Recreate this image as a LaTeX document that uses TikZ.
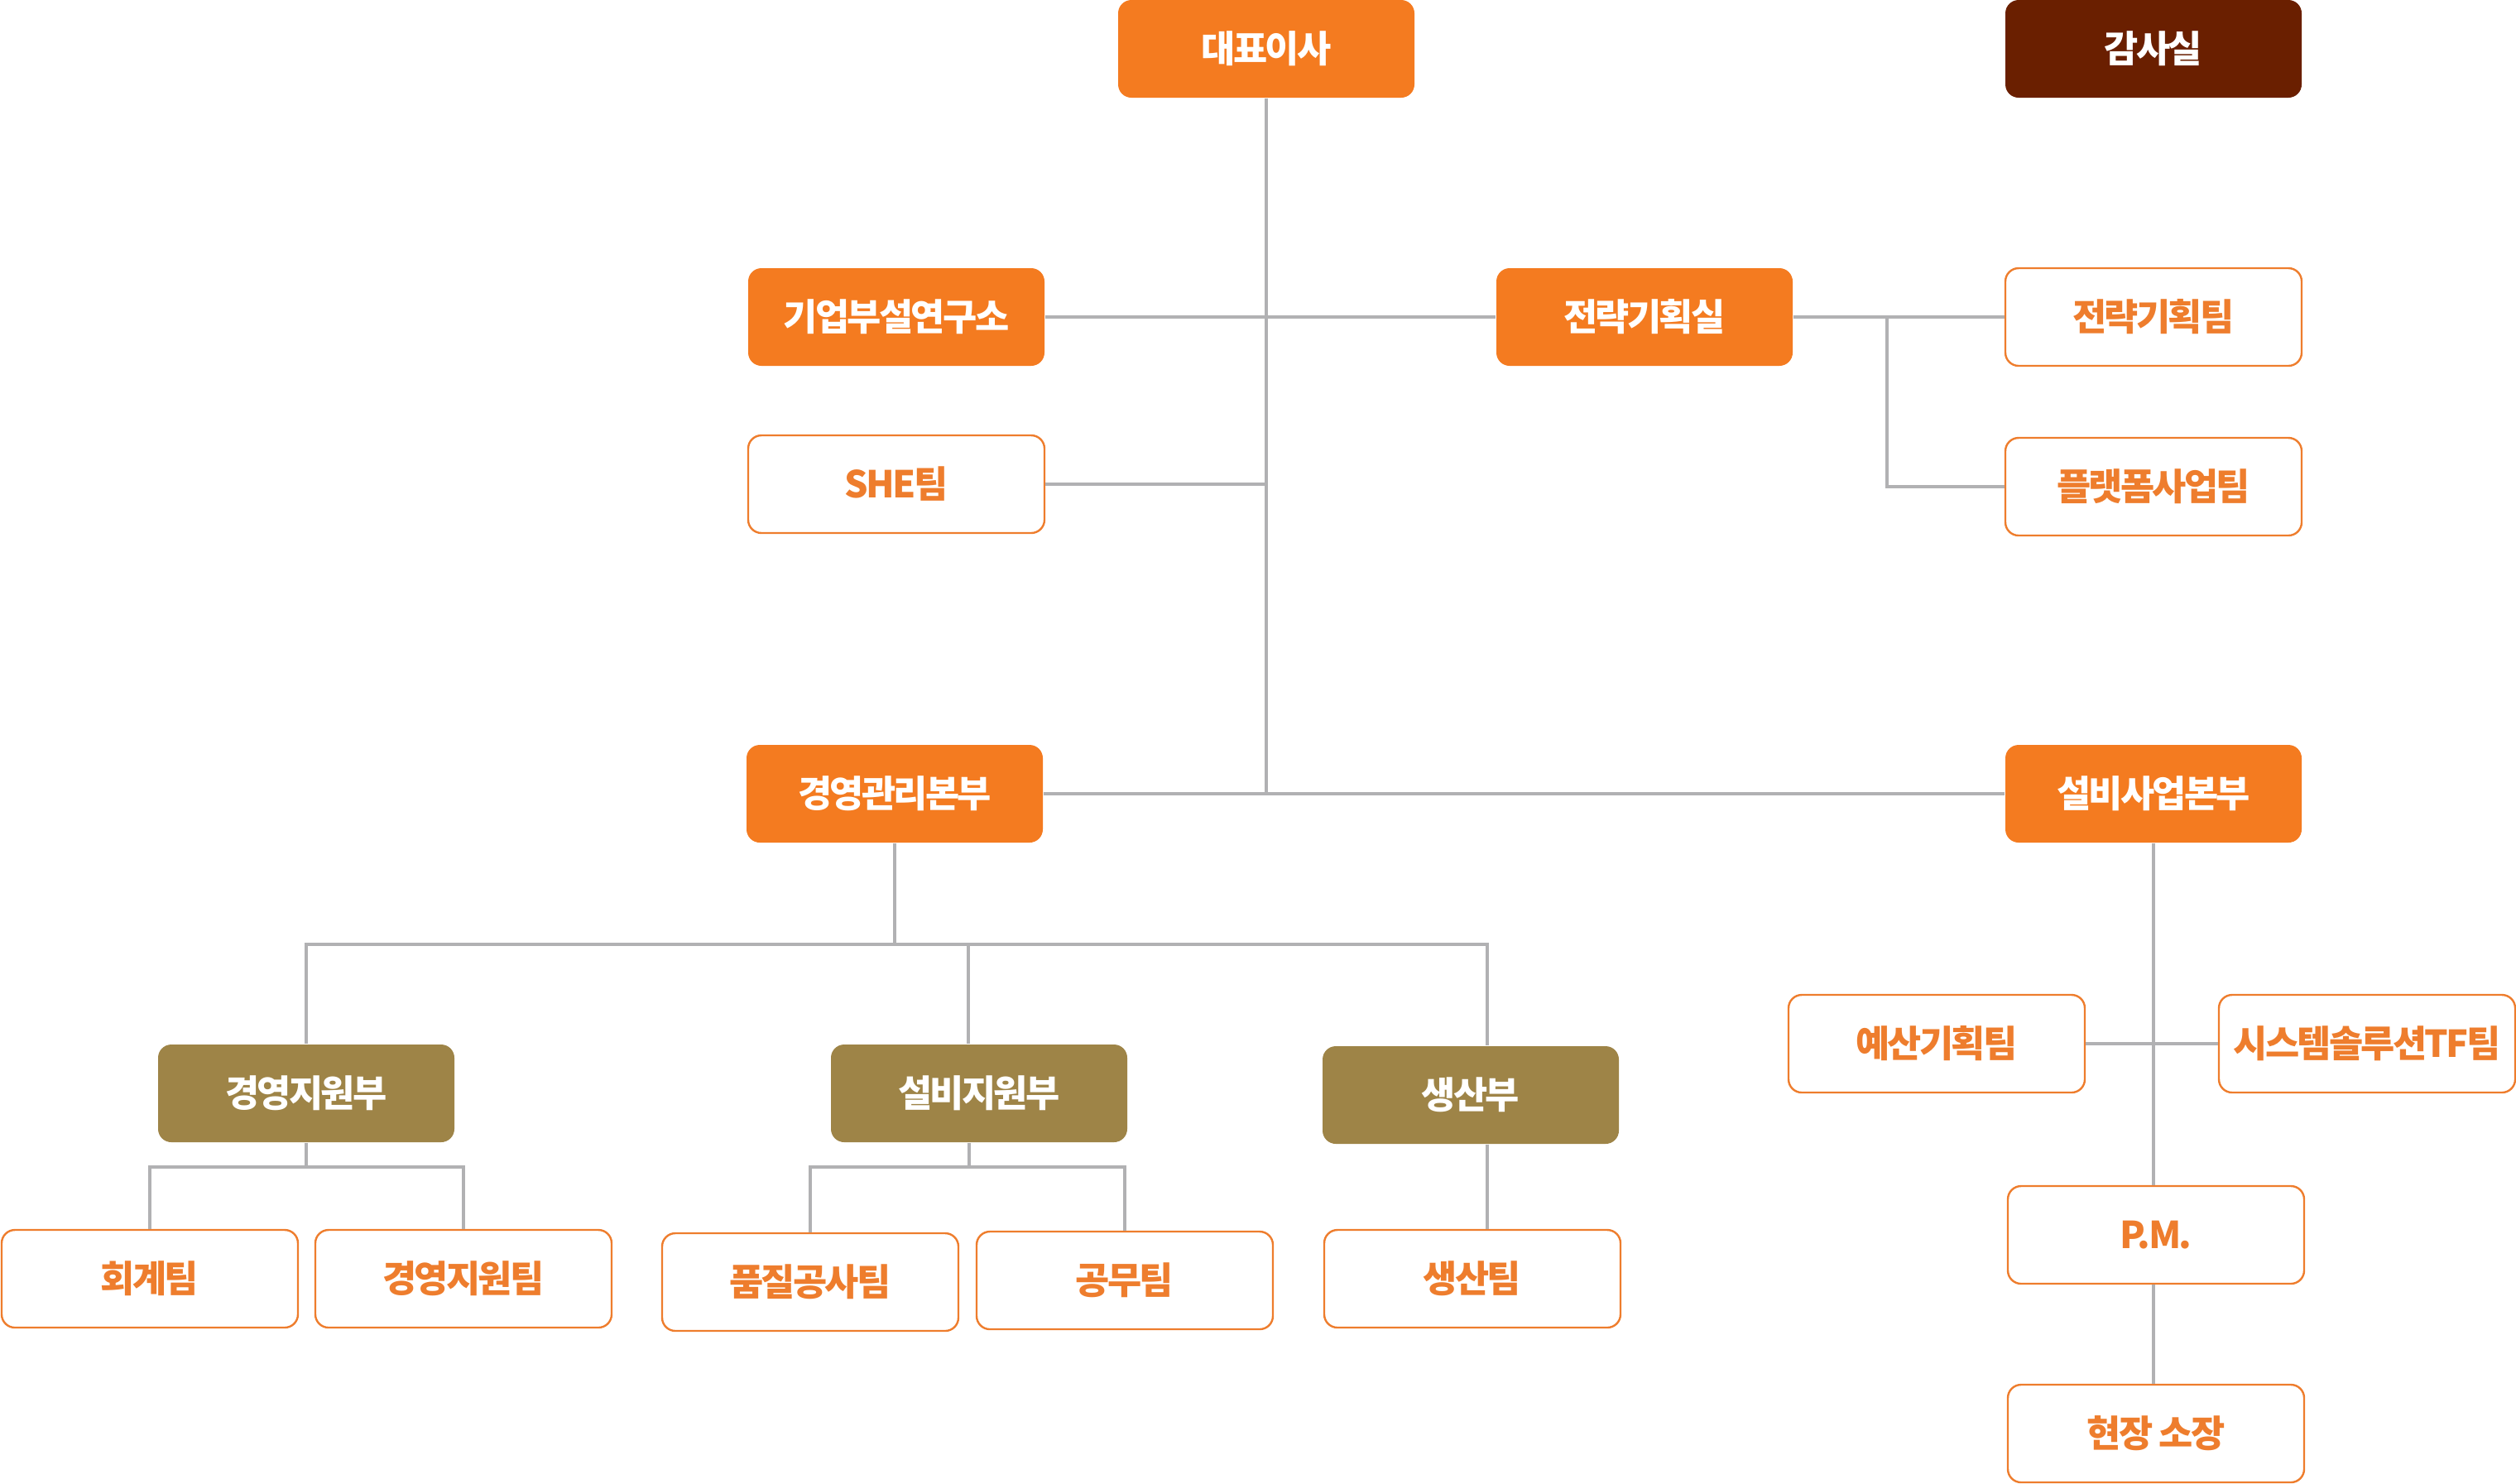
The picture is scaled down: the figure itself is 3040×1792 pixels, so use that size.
\documentclass[tikz,border=0pt]{standalone}
\usepackage{fontspec}
\newfontfamily\krfont{Noto Sans CJK KR}[LetterSpace=-6]
\usetikzlibrary{positioning}
\definecolor{headorange}{HTML}{F47B20}
\definecolor{auditbrown}{HTML}{6A1F00}
\definecolor{divolive}{HTML}{9E8447}
\definecolor{teamorange}{HTML}{EE7D2D}
\definecolor{linkgray}{HTML}{B1B1B3}

\begin{document}
\begin{tikzpicture}[x=0.25pt,y=-0.25pt,
  box/.style={rounded corners=4pt,minimum width=89.5pt,minimum height=29.5pt,inner sep=0pt,
    font=\krfont\bfseries\fontsize{11.2}{13}\selectfont},
  headbox/.style={box,fill=headorange,text=white},
  auditbox/.style={box,fill=auditbrown,text=white},
  divbox/.style={box,fill=divolive,text=white},
  teambox/.style={box,draw=teamorange,line width=0.6pt,fill=white,text=teamorange},
  link/.style={draw=linkgray,line width=0.8pt}]
  \useasboundingbox (0,0) rectangle (3040,1792);

  % top
  \node[headbox] (ceo) at (1530,59) {대표이사};
  \node[auditbox] (audit) at (2602,59) {감사실};

  % staff
  \node[headbox] (lab) at (1083,383) {기업부설연구소};
  \node[teambox] (she) at (1083,585) {SHE팀};
  \node[headbox] (strat) at (1987,383) {전략기획실};
  \node[teambox] (stratteam) at (2602,383) {전략기획팀};
  \node[teambox] (platform) at (2602,588) {플랫폼사업팀};

  % headquarters
  \node[headbox] (mgmt) at (1081,959) {경영관리본부};
  \node[headbox] (plant) at (2602,959) {설비사업본부};

  % management divisions
  \node[divbox] (supdiv) at (370,1321) {경영지원부};
  \node[divbox] (facdiv) at (1183,1321) {설비지원부};
  \node[divbox] (proddiv) at (1777,1323) {생산부};

  \node[teambox] (acct) at (181,1545) {회계팀};
  \node[teambox] (supteam) at (560,1545) {경영지원팀};
  \node[teambox] (qual) at (979,1549) {품질공사팀};
  \node[teambox] (works) at (1359,1547) {공무팀};
  \node[teambox] (prodteam) at (1779,1545) {생산팀};

  % plant business
  \node[teambox] (budget) at (2340,1261) {예산기획팀};
  \node[teambox] (systf) at (2860,1261) {시스템솔루션TF팀};
  \node[teambox] (pm) at (2605,1492) {P.M.};
  \node[teambox] (site) at (2605,1732) {현장 소장};

  % trunk
  \coordinate (hub) at (ceo.south |- mgmt.east);
  \path[link] (ceo.south) -- (hub);
  \path[link] (lab.east) -- (strat.west);
  \path[link] (she.east) -- (she.east -| ceo.south);
  \path[link] (mgmt.east) -- (plant.west);

  % strategy teams
  \coordinate (stratfork) at (2280,383);
  \path[link] (strat.east) -- (stratteam.west);
  \path[link] (stratfork) |- (platform.west);

  % management bus
  \coordinate (busL) at (supdiv.north |- 0,1141);
  \coordinate (busM) at (1170,1141);
  \coordinate (busR) at (1797,1141);
  \path[link] (mgmt.south) -- (mgmt.south |- busL);
  \path[link] (supdiv.north) -- (busL) -- (busR) -- (busR |- proddiv.north);
  \path[link] (busM) -- (busM |- facdiv.north);

  % teams
  \coordinate (supbus) at (supdiv.south |- 0,1410);
  \coordinate (facbus) at (1171,1410);
  \path[link] (supdiv.south) -- (supbus);
  \path[link] (acct.north) |- (supbus) -| (supteam.north);
  \path[link] (facbus |- facdiv.south) -- (facbus);
  \path[link] (qual.north) |- (facbus) -| (works.north);
  \path[link] (busR |- proddiv.south) -- (busR |- prodteam.north);

  % plant teams
  \path[link] (plant.south) -- (plant.south |- pm.north);
  \path[link] (budget.east) -- (systf.west);
  \path[link] (pm.south -| plant.south) -- (site.north -| plant.south);
\end{tikzpicture}
\end{document}
